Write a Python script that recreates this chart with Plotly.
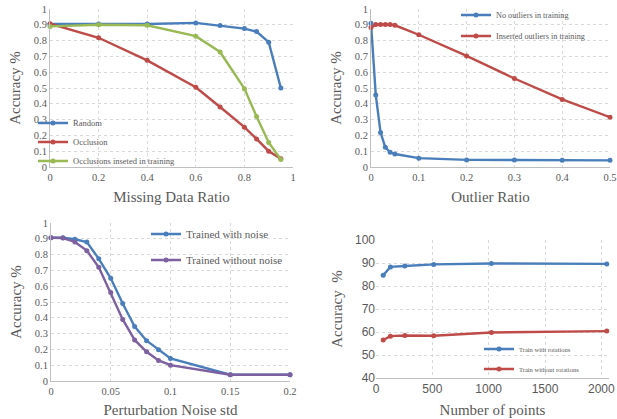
import plotly.graph_objects as go

# ---- data ----
missing_ratio = [0, 0.2, 0.4, 0.6, 0.7, 0.8, 0.85, 0.9, 0.95]
random_acc = [0.905, 0.905, 0.905, 0.912, 0.895, 0.876, 0.857, 0.79, 0.5]
occlusion_acc = [0.907, 0.818, 0.675, 0.505, 0.38, 0.252, 0.178, 0.1, 0.053]
occl_train_acc = [0.89, 0.9, 0.897, 0.828, 0.728, 0.496, 0.32, 0.155, 0.047]

outlier_ratio = [0, 0.01, 0.02, 0.03, 0.04, 0.05, 0.1, 0.2, 0.3, 0.4, 0.5]
no_outlier_acc = [0.91, 0.455, 0.218, 0.125, 0.093, 0.082, 0.056, 0.045, 0.044, 0.043, 0.042]
ins_outlier_acc = [0.883, 0.902, 0.902, 0.902, 0.902, 0.897, 0.837, 0.703, 0.56, 0.428, 0.315]

noise_std = [0, 0.01, 0.02, 0.03, 0.04, 0.05, 0.06, 0.07, 0.08, 0.09, 0.1, 0.15, 0.2]
with_noise_acc = [0.907, 0.907, 0.897, 0.88, 0.773, 0.65, 0.49, 0.345, 0.255, 0.197, 0.143, 0.04, 0.04]
without_noise_acc = [0.907, 0.905, 0.88, 0.825, 0.72, 0.56, 0.39, 0.26, 0.185, 0.13, 0.1, 0.04, 0.04]

num_points = [64, 128, 256, 512, 1024, 2048]
with_rot_acc = [84.7, 88.3, 88.7, 89.4, 89.8, 89.6]
without_rot_acc = [56.5, 58.2, 58.5, 58.4, 59.8, 60.4]

BLUE = "#4A7EBB"
RED = "#BE4B48"
GREEN = "#98B954"
PURPLE = "#7D60A0"
GRID = "#D9D9D9"
TXT = "#595959"
SERIF = "Liberation Serif"
SANS = "Liberation Sans"

W, H = 617, 419


def px_x(p):
    return p / W


def px_y(p):
    return 1 - p / H


fig = go.Figure()


def add(x, y, name, color, xa, ya, legend):
    fig.add_trace(go.Scatter(
        x=x, y=y, name=name, mode="lines+markers",
        line=dict(color=color, width=2.4),
        marker=dict(color=color, size=5, symbol="circle"),
        xaxis=xa, yaxis=ya, legend=legend, cliponaxis=False, showlegend=True))


add(missing_ratio, random_acc, "Random", BLUE, "x", "y", "legend")
add(missing_ratio, occlusion_acc, "Occlusion", RED, "x", "y", "legend2")
add(missing_ratio, occl_train_acc, "Occlusions inseted in training", GREEN, "x", "y", "legend3")
add(outlier_ratio, no_outlier_acc, "No outliers in training", BLUE, "x2", "y2", "legend4")
add(outlier_ratio, ins_outlier_acc, "Inserted outliers in training", RED, "x2", "y2", "legend5")
add(noise_std, with_noise_acc, "Trained with noise", BLUE, "x3", "y3", "legend6")
add(noise_std, without_noise_acc, "Trained without noise", PURPLE, "x3", "y3", "legend7")
add(num_points, with_rot_acc, "Train with rotations", BLUE, "x4", "y4", "legend8")
add(num_points, without_rot_acc, "Train without rotations", RED, "x4", "y4", "legend9")


def xax(dom, rng, dtick, title, anchor, font=SERIF, tsize=10.5, standoff=9):
    return dict(domain=dom, range=rng, dtick=dtick, tick0=0, anchor=anchor, automargin=False,
                showgrid=True, gridcolor=GRID, griddash="dot", gridwidth=1,
                showline=True, linecolor="#BFBFBF", linewidth=1, zeroline=False,
                ticks="", tickfont=dict(family=font, size=tsize, color=TXT),
                title=dict(text=title, font=dict(family=SERIF, size=15, color=TXT), standoff=standoff))


def yax(dom, rng, dtick, anchor, showline=True, font=SERIF, tsize=10.5, tick0=0,
        title="Accuracy %", standoff=9):
    return dict(domain=dom, range=rng, dtick=dtick, tick0=tick0, anchor=anchor, automargin=False,
                showgrid=True, gridcolor=GRID, griddash="dot", gridwidth=1,
                showline=showline, linecolor="#BFBFBF", linewidth=1, zeroline=False,
                ticks="", tickfont=dict(family=font, size=tsize, color=TXT),
                title=dict(text=title, font=dict(family=SERIF, size=15, color=TXT), standoff=standoff))


def leg(xpx, ypx, size):
    return dict(x=px_x(xpx), y=px_y(ypx), xanchor="left", yanchor="middle",
                bgcolor="rgba(0,0,0,0)", borderwidth=0,
                font=dict(family=SERIF, size=size, color=TXT),
                itemwidth=30)


fig.update_layout(
    width=W, height=H, margin=dict(l=0, r=0, t=0, b=0),
    paper_bgcolor="white", plot_bgcolor="white", showlegend=True,
    xaxis=xax([px_x(50), px_x(293)], [0, 1], 0.2, "Missing Data Ratio", "y"),
    yaxis=yax([px_y(167), px_y(9)], [0, 1], 0.1, "x"),
    xaxis2=xax([px_x(371), px_x(610)], [0, 0.5], 0.1, "Outlier Ratio", "y2"),
    yaxis2=yax([px_y(167), px_y(9)], [0, 1], 0.1, "x2"),
    xaxis3=xax([px_x(51), px_x(290)], [0, 0.2], 0.05, "Perturbation Noise std", "y3", standoff=8),
    yaxis3=yax([px_y(381), px_y(223)], [0, 1], 0.1, "x3"),
    xaxis4=xax([px_x(376), px_x(609)], [0, 2068], 500, "Number of points", "y4", font=SANS, tsize=12,
               standoff=9),
    yaxis4=yax([px_y(378), px_y(240)], [40, 100], 10, "x4", showline=False, font=SANS, tsize=12,
               tick0=40, title="Accuracy \u00a0%", standoff=8),
    legend=leg(33, 123, 8.5),
    legend2=leg(33, 142, 8.5),
    legend3=leg(33, 161, 8.5),
    legend4=leg(456, 15, 8.2),
    legend5=leg(456, 36, 8.2),
    legend6=leg(146, 234, 11),
    legend7=leg(146, 260, 11),
    legend8=leg(479, 349, 6.5),
    legend9=leg(479, 369, 6.5),
)

fig.write_html("out.html", config={"displayModeBar": False},
               post_script="document.body.style.margin='0';")
